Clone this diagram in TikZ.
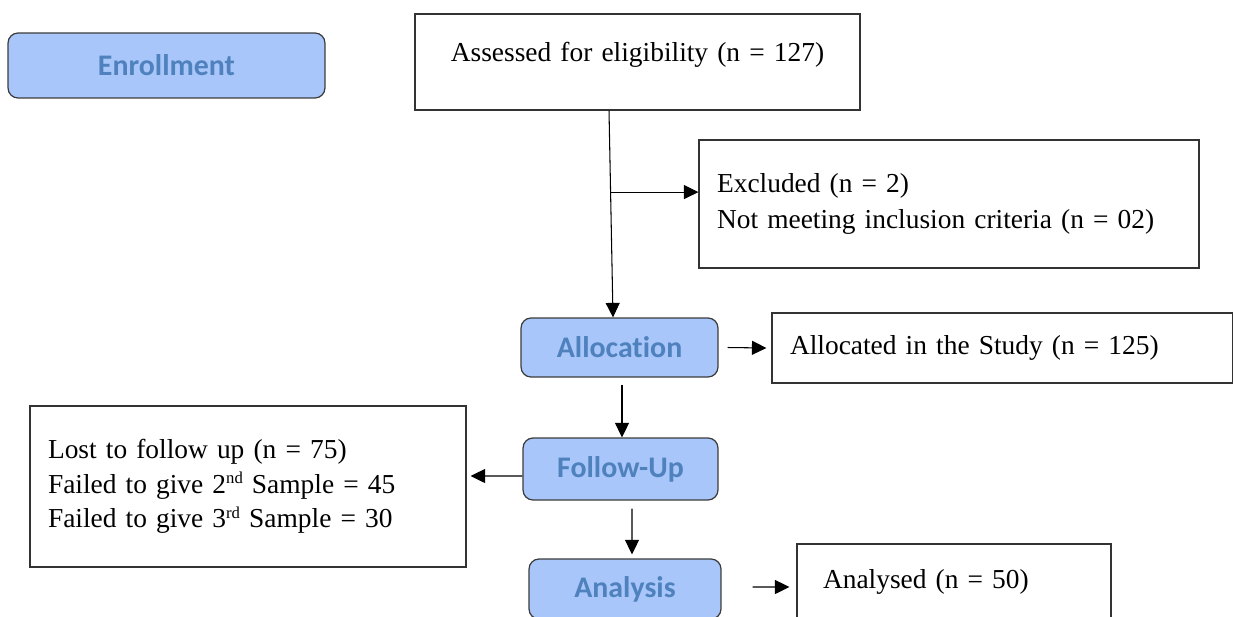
\documentclass[tikz,border=0pt]{standalone}
\usepackage{fontspec}
\setmainfont{Liberation Serif}
\newfontfamily\stagefont[Ligatures=NoCommon]{Carlito}
\usepackage{tikz}
\usetikzlibrary{arrows.meta,calc}
\definecolor{stagefill}{RGB}{168,198,250}
\definecolor{stagetext}{RGB}{79,129,189}
\definecolor{stageline}{RGB}{60,60,60}
\newcommand{\ordsup}[1]{\raisebox{0.75ex}{\fontsize{9.5}{10}\selectfont #1}}
\tikzset{
    stage/.style={
           rectangle,
           rounded corners=2mm,
           draw=stageline, line width=0.7pt,
           fill=stagefill,
           text=stagetext,
           font=\stagefont\bfseries\fontsize{17}{20}\selectfont,
           inner sep=0pt,
           text centered,
           },
    record/.style={
           rectangle,
           draw=black!80, line width=0.7pt,
           inner xsep=0.36cm, inner ysep=0pt,
           align=left,
           font=\fontsize{15.6}{20.5}\selectfont,
           },
}

\begin{document}
\begin{tikzpicture}[x=0.02cm,y=-0.02cm,>={Triangle[length=2.9mm,width=2.8mm]},line width=0.6pt]
 \clip (0,0) rectangle (1233,616);

 % stages on the left/middle
 \node[stage, minimum width=6.34cm, minimum height=1.3cm] (enroll) at (166.5,65.5) {Enrollment};
 \node[stage, minimum width=3.94cm, minimum height=1.18cm] (alloc) at (619.5,347.5) {Allocation};
 \node[stage, minimum width=3.9cm, minimum height=1.24cm] (follow) at (620.5,469) {Follow-Up};
 \node[stage, minimum width=3.84cm, minimum height=1.2cm] (analysis) at (625,589) {Analysis};

 % counts
 \node[record, align=center, text width=8.18cm, minimum height=1.92cm, text depth=0.42cm] (assess) at (637.5,62)
 {Assessed for eligibility (n = 127)};
 \node[record, text width=9.28cm, minimum height=2.56cm] (excl) at (949,204)
 {Excluded (n = 2)\\
  Not meeting inclusion criteria (n = 02)};
 \node[record, text width=8.5cm, minimum height=1.4cm] (allocd) at (1002.5,348)
 {Allocated in the Study (n = 125)};
 \node[record, text width=8cm, minimum height=3.22cm, font=\fontsize{15.6}{19.6}\selectfont] (lost) at (248,486.5)
 {Lost to follow up (n = 75)\\
  Failed to give 2\ordsup{nd} Sample = 45\\
  Failed to give 3\ordsup{rd} Sample = 30};
 \node[record, inner xsep=0.52cm, text width=5.24cm, minimum height=1.5cm] (analysed) at (954,581.5)
 {Analysed (n = 50)};

 % flow
 \draw[->] ([xshift=-0.57cm]assess.south) -- coordinate[pos=0.394] (split) ([xshift=-0.13cm]alloc.north);
 \draw[->] (split) -- (split -| excl.west);
 \draw[->] ([xshift=0.18cm]alloc.east) -- ([xshift=-0.1cm]allocd.west);
 \draw[->] ([xshift=0.05cm,yshift=-0.14cm]alloc.south) -- ([xshift=0.03cm]follow.north);
 \draw[->] ([yshift=-0.14cm]follow.west) -- ([xshift=0.08cm,yshift=0.21cm]lost.east);
 \draw[->] ([xshift=0.23cm,yshift=-0.16cm]follow.south) -- ([xshift=0.14cm,yshift=0.08cm]analysis.north);
 \draw[->] ([xshift=0.62cm,yshift=0.04cm]analysis.east) -- ([xshift=-0.14cm,yshift=-0.11cm]analysed.west);

\end{tikzpicture}
\end{document}
